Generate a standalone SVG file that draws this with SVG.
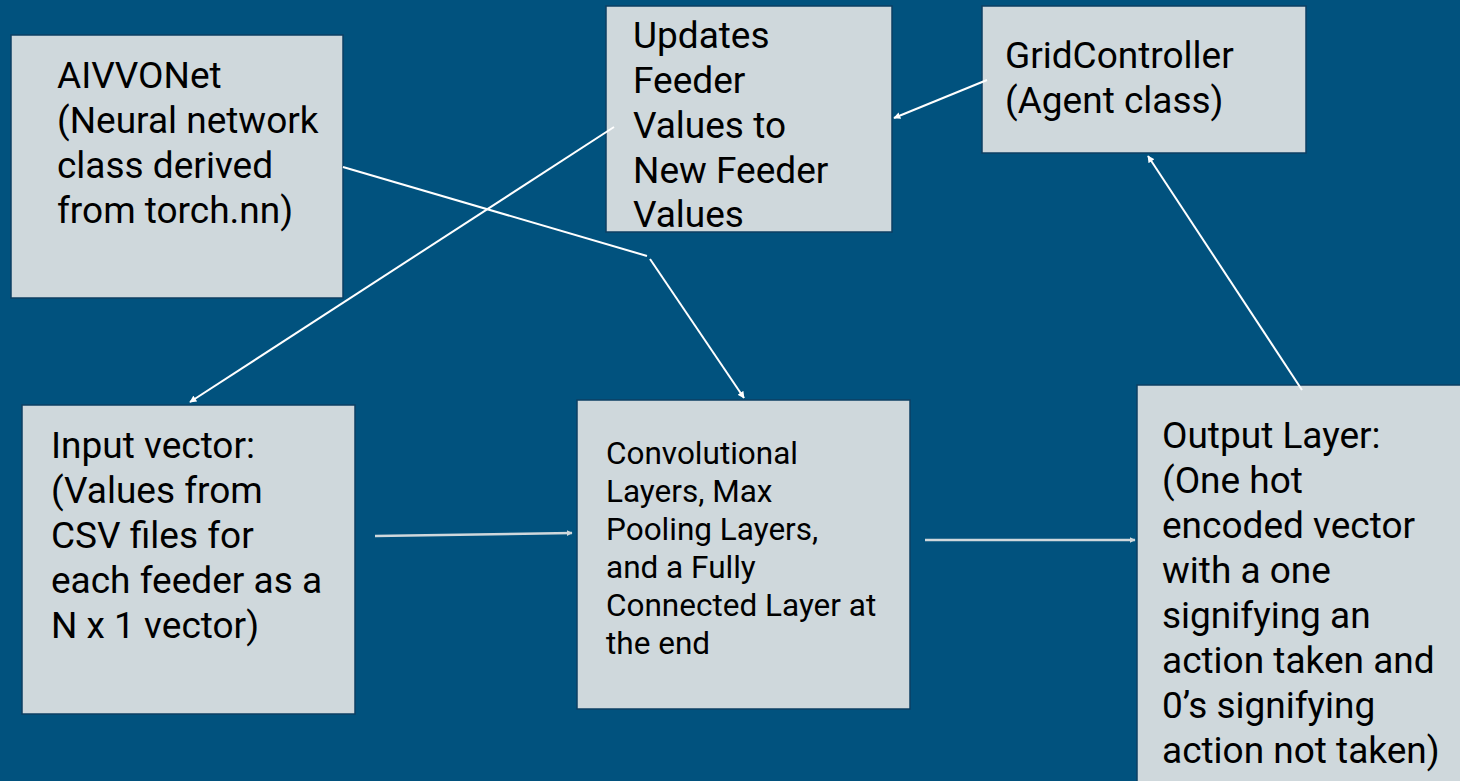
<svg xmlns="http://www.w3.org/2000/svg" width="1460" height="781" viewBox="0 0 1460 781">
  <style>
    .box { fill: #cfd8dc; stroke: #0d3f63; stroke-width: 1.5; }
    .lbl { font-family: Roboto, "Liberation Sans", sans-serif; font-size: 37px; fill: #000; }
    .sm { font-size: 31.5px; }
    .wire { fill: none; stroke: #ffffff; stroke-width: 2; }
    .flow { fill: none; stroke: #cfd8dc; stroke-width: 2.5; }
  </style>
  <defs>
    <marker id="headW" viewBox="0 0 10 10" refX="9" refY="5" markerWidth="7" markerHeight="7" markerUnits="userSpaceOnUse" orient="auto">
      <path d="M0,0 L10,5 L0,10 z" fill="#ffffff"/>
    </marker>
    <marker id="headG" viewBox="0 0 10 10" refX="9" refY="5" markerWidth="6" markerHeight="6" markerUnits="userSpaceOnUse" orient="auto">
      <path d="M0,0 L10,5 L0,10 z" fill="#cfd8dc"/>
    </marker>
  </defs>

  <rect width="1460" height="781" fill="#01527e"/>

  <g id="aivvonet">
    <rect class="box" x="11" y="35" width="332" height="263"/>
    <text class="lbl" x="57" y="88">AIVVONet</text>
    <text class="lbl" x="57" y="133">(Neural network</text>
    <text class="lbl" x="57" y="178">class derived</text>
    <text class="lbl" x="57" y="223">from torch.nn)</text>
  </g>

  <g id="updates">
    <rect class="box" x="606" y="6" width="286" height="226"/>
    <text class="lbl" x="633" y="48">Updates</text>
    <text class="lbl" x="633" y="93">Feeder</text>
    <text class="lbl" x="633" y="138">Values to</text>
    <text class="lbl" x="633" y="183">New Feeder</text>
    <text class="lbl" x="633" y="227">Values</text>
  </g>

  <g id="gridcontroller">
    <rect class="box" x="982" y="6" width="324" height="147"/>
    <text class="lbl" x="1005" y="68">GridController</text>
    <text class="lbl" x="1005" y="113">(Agent class)</text>
  </g>

  <g id="input">
    <rect class="box" x="22" y="405" width="333" height="309"/>
    <text class="lbl" x="51" y="458">Input vector:</text>
    <text class="lbl" x="51" y="503">(Values from</text>
    <text class="lbl" x="51" y="548">CSV files for</text>
    <text class="lbl" x="51" y="593">each feeder as a</text>
    <text class="lbl" x="51" y="638">N x 1 vector)</text>
  </g>

  <g id="layers">
    <rect class="box" x="577" y="400" width="333" height="309"/>
    <text class="lbl sm" x="606" y="464">Convolutional</text>
    <text class="lbl sm" x="606" y="502">Layers, Max</text>
    <text class="lbl sm" x="606" y="540">Pooling Layers,</text>
    <text class="lbl sm" x="606" y="578">and a Fully</text>
    <text class="lbl sm" x="606" y="616">Connected Layer at</text>
    <text class="lbl sm" x="606" y="654">the end</text>
  </g>

  <g id="output">
    <rect class="box" x="1137" y="385" width="330" height="400"/>
    <text class="lbl" x="1162" y="448">Output Layer:</text>
    <text class="lbl" x="1162" y="493">(One hot</text>
    <text class="lbl" x="1162" y="538">encoded vector</text>
    <text class="lbl" x="1162" y="583">with a one</text>
    <text class="lbl" x="1162" y="628">signifying an</text>
    <text class="lbl" x="1162" y="673">action taken and</text>
    <text class="lbl" x="1162" y="718">0’s signifying</text>
    <text class="lbl" x="1162" y="763">action not taken)</text>
  </g>

  <g id="connectors">
    <line class="wire" x1="987" y1="80" x2="894" y2="118" marker-end="url(#headW)"/>
    <line class="wire" x1="1302" y1="390" x2="1148" y2="156" marker-end="url(#headW)"/>
    <line class="wire" x1="614" y1="127" x2="190" y2="402" marker-end="url(#headW)"/>
    <polyline class="wire" points="343,167 647,256"/>
    <line class="wire" x1="650" y1="259" x2="744" y2="398" marker-end="url(#headW)"/>
    <line class="flow" x1="375" y1="536" x2="572" y2="533" marker-end="url(#headG)"/>
    <line class="flow" x1="925" y1="540" x2="1135" y2="540" marker-end="url(#headG)"/>
  </g>
</svg>
